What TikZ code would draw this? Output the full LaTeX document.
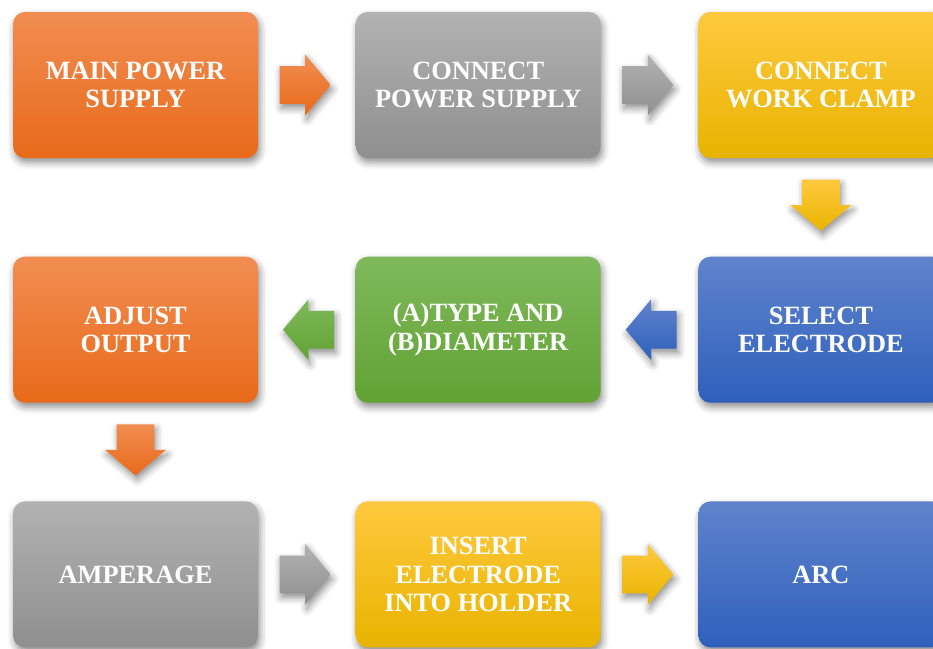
\documentclass[tikz,border=0pt]{standalone}
\usepackage{fontspec}
\setmainfont{Liberation Serif}
\usetikzlibrary{positioning,shapes.arrows,shadows.blur}

% box colours, light top / dark bottom
\definecolor{orangeT}{HTML}{F28D52}
\definecolor{orangeB}{HTML}{E86A1A}
\definecolor{grayT}{HTML}{B2B2B2}
\definecolor{grayB}{HTML}{8F8F8F}
\definecolor{yellowT}{HTML}{FFC93E}
\definecolor{yellowB}{HTML}{E8B400}
\definecolor{blueT}{HTML}{6083CC}
\definecolor{blueB}{HTML}{2E60BC}
\definecolor{greenT}{HTML}{7FB95C}
\definecolor{greenB}{HTML}{62A233}

\tikzset{
  softshadow/.style={blur shadow={shadow xshift=1pt, shadow yshift=-2.5pt,
      shadow blur radius=4pt, shadow opacity=45}},
  stepbox/.style={rounded corners=0.24cm, minimum width=4.9cm,
      minimum height=2.92cm, text=white, align=center,
      font=\bfseries\fontsize{15}{16}\selectfont, softshadow},
  orangebox/.style={stepbox, top color=orangeT, bottom color=orangeB},
  graybox/.style={stepbox, top color=grayT, bottom color=grayB},
  yellowbox/.style={stepbox, top color=yellowT, bottom color=yellowB},
  bluebox/.style={stepbox, top color=blueT, bottom color=blueB},
  greenbox/.style={stepbox, top color=greenT, bottom color=greenB},
  % shaft 0.74cm wide, head 1.2cm wide, 1.02cm long in all
  flow/.style={single arrow, single arrow head extend=0.23cm,
      single arrow tip angle=100, minimum height=1.02cm,
      inner xsep=0pt, inner ysep=0.37cm, anchor=tail, softshadow},
  downflow/.style={shape border rotate=270, inner xsep=0.37cm, inner ysep=0pt},
  leftflow/.style={shape border rotate=180},
  orangeflow/.style={flow, top color=orangeT, bottom color=orangeB},
  grayflow/.style={flow, top color=grayT, bottom color=grayB},
  yellowflow/.style={flow, top color=yellowT, bottom color=yellowB},
  blueflow/.style={flow, top color=blueT, bottom color=blueB},
  greenflow/.style={flow, top color=greenT, bottom color=greenB},
}

\begin{document}
\begin{tikzpicture}
  \useasboundingbox (0,0) rectangle (18.66,-12.96);
  % first row
  \node[orangebox] (main) at (2.71,-1.70) {MAIN POWER\\SUPPLY};
  \node[graybox, right=1.94cm of main] (connpow) {CONNECT\\POWER SUPPLY};
  \node[yellowbox, right=1.94cm of connpow] (clamp) {CONNECT\\WORK CLAMP};
  % second row, going back to the left
  \node[bluebox, below=1.96cm of clamp] (select) {SELECT\\ELECTRODE};
  \node[greenbox, left=1.94cm of select] (type) {(A)TYPE AND\\(B)DIAMETER};
  \node[orangebox, left=1.94cm of type] (adjust) {ADJUST\\OUTPUT};
  % third row
  \node[graybox, below=1.96cm of adjust] (amp) {AMPERAGE};
  \node[yellowbox, right=1.94cm of amp] (insert) {INSERT\\ELECTRODE\\INTO HOLDER};
  \node[bluebox, right=1.94cm of insert] (arc) {ARC};

  % block arrows, tail 0.42cm off the step they leave
  \node[right=0.42cm of main, orangeflow] (a1) {};
  \node[right=0.42cm of connpow, grayflow] (a2) {};
  \node[below=0.42cm of clamp, yellowflow, downflow] (a3) {};
  \node[left=0.42cm of select, blueflow, leftflow] (a4) {};
  \node[left=0.42cm of type, greenflow, leftflow] (a5) {};
  \node[below=0.42cm of adjust, orangeflow, downflow] (a6) {};
  \node[right=0.42cm of amp, grayflow] (a7) {};
  \node[right=0.42cm of insert, yellowflow] (a8) {};
\end{tikzpicture}
\end{document}
